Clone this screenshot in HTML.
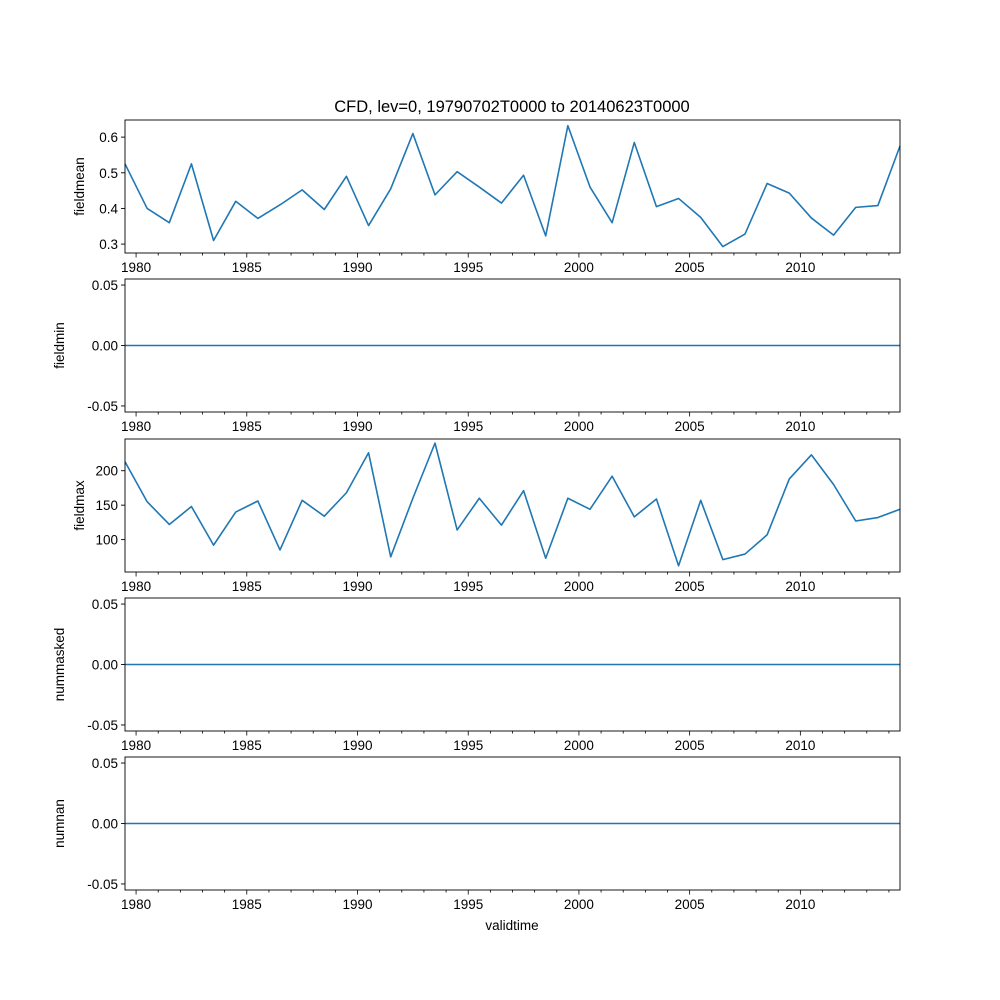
<!DOCTYPE html>
<html><head><meta charset="utf-8"><style>
html,body{margin:0;padding:0;background:#fff}
svg{display:block;font-family:"Liberation Sans","DejaVu Sans",sans-serif}
</style></head><body>
<svg id="fig" width="1000" height="1000" xmlns="http://www.w3.org/2000/svg">
<rect width="1000" height="1000" fill="#fff"/>
<text x="512" y="112" font-size="16.5" text-anchor="middle">CFD, lev=0, 19790702T0000 to 20140623T0000</text>
<text x="512" y="930" font-size="13.5" text-anchor="middle">validtime</text>
</svg>
<script>
const years = [1979,1980,1981,1982,1983,1984,1985,1986,1987,1988,1989,1990,1991,1992,1993,1994,1995,1996,1997,1998,1999,2000,2001,2002,2003,2004,2005,2006,2007,2008,2009,2010,2011,2012,2013,2014];
const fieldmean = [0.525,0.40,0.36,0.525,0.31,0.42,0.372,0.41,0.452,0.397,0.49,0.352,0.455,0.61,0.438,0.503,0.46,0.415,0.493,0.323,0.632,0.46,0.36,0.585,0.405,0.428,0.375,0.293,0.328,0.47,0.443,0.373,0.325,0.403,0.408,0.575];
const fieldmin = years.map(()=>0);
const fieldmax = [213,155,122,148,92,140,156,85,157,134,168,226,75,160,240,114,160,121,171,73,160,144,192,133,159,62,157,71,79,107,188,223,180,127,132,144];
const nummasked = years.map(()=>0);
const numnan = years.map(()=>0);
const xTickLabels = [1980,1985,1990,1995,2000,2005,2010];
const panels = [
 {name:'fieldmean', data:fieldmean, top:120, lo:0.275, hi:0.648, ticks:[0.3,0.4,0.5,0.6], fmt:v=>v.toFixed(1)},
 {name:'fieldmin', data:fieldmin, top:279, lo:-0.055, hi:0.055, ticks:[-0.05,0,0.05], fmt:v=>v.toFixed(2)},
 {name:'fieldmax', data:fieldmax, top:439, lo:53, hi:246, ticks:[100,150,200], fmt:v=>String(v)},
 {name:'nummasked', data:nummasked, top:598, lo:-0.055, hi:0.055, ticks:[-0.05,0,0.05], fmt:v=>v.toFixed(2)},
 {name:'numnan', data:numnan, top:757, lo:-0.055, hi:0.055, ticks:[-0.05,0,0.05], fmt:v=>v.toFixed(2)}
];
const NS='http://www.w3.org/2000/svg';
const svg=document.getElementById('fig');
const L=125,R=900,H=133,x0=1979.5,x1=2014.5;
const xs=t=>L+(t-x0)/(x1-x0)*(R-L);
function mk(tag,attrs,parent){const e=document.createElementNS(NS,tag);for(const k in attrs)e.setAttribute(k,attrs[k]);(parent||svg).appendChild(e);return e;}
panels.forEach(p=>{
 const g=mk('g',{});
 
 
 const ys=v=>p.top+H-(v-p.lo)/(p.hi-p.lo)*H;
 const pts=p.data.map((v,i)=>xs(years[i]+0.5).toFixed(2)+','+ys(v).toFixed(2)).join(' ');
 const line=mk('polyline',{points:pts,fill:'none',stroke:'#1f77b4','stroke-width':1.6,'stroke-linejoin':'round'},g);
 
 
 const fr=mk('rect',{x:L,y:p.top,width:R-L,height:H,fill:'none',stroke:'#000','stroke-width':0.9},g);
 
 
 p.ticks.forEach(v=>{
  const y=ys(v);
  mk('line',{x1:L-4,x2:L,y1:y,y2:y,stroke:'#000','stroke-width':0.9},g);
  const t=mk('text',{x:L-7,y:y+5,'font-size':13.5,'text-anchor':'end'},g);
  t.textContent=p.fmt(v);
  
  
 });
 for(let yr=1980;yr<=2014;yr++){
  const x=xs(yr);const major=xTickLabels.includes(yr);
  mk('line',{x1:x,x2:x,y1:p.top+H,y2:p.top+H+(major?4.5:2.5),stroke:'#000','stroke-width':0.8},g);
 }
 xTickLabels.forEach(yr=>{
  const t=mk('text',{x:xs(yr),y:p.top+H+19,'font-size':13.5,'text-anchor':'middle'},g);
  t.textContent=yr;
  
  
 });
 const yl=mk('text',{x:0,y:0,'font-size':13.5,'text-anchor':'middle',transform:`translate(${p.name==='fieldmean'||p.name==='fieldmax'?84:64},${p.top+H/2}) rotate(-90)`},g);
 yl.textContent=p.name;
 
 
});
</script>
</body></html>
